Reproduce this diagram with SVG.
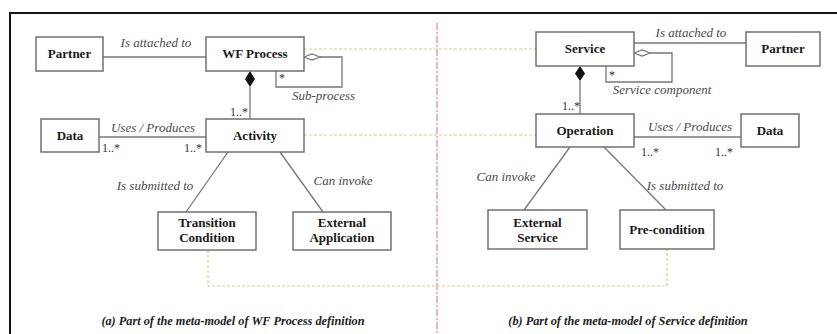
<svg xmlns="http://www.w3.org/2000/svg" width="837" height="334" viewBox="0 0 837 334" font-family="Liberation Serif, serif">
<style>
.box{fill:#fff;stroke:#707070;stroke-width:1.5}
.nt{font-weight:bold;font-size:13px;fill:#1a1a1a;text-anchor:middle}
.lb{font-style:italic;font-size:13px;fill:#4a4a4a}
.m{font-size:12px;fill:#333}
.ln{fill:none;stroke:#777;stroke-width:1.3}
.gd{fill:none;stroke:#c2d88f;stroke-width:1.2;stroke-dasharray:3 2}
.cap{font-style:italic;font-weight:bold;font-size:12.3px;fill:#222;text-anchor:middle}
</style>
<rect width="837" height="334" fill="#fff"/>
<path d="M10,334 V13 H837" fill="none" stroke="#151515" stroke-width="2"/>
<line x1="437" y1="23" x2="437" y2="334" stroke="#f08c8c" stroke-width="1.3" stroke-dasharray="7 2 2 2"/>
<g id="connectors">
<line class="ln" x1="103" y1="57" x2="206" y2="57"/>
<path class="ln" d="M320,57 H342 V87 H276 V71"/>
<polygon points="304,57 312,54 320,57 312,60" fill="#fff" stroke="#777" stroke-width="1.2"/>
<line class="ln" x1="250" y1="87" x2="250" y2="119"/>
<polygon points="250,71 255,79 250,87 245,79" fill="#111"/>
<line class="ln" x1="99" y1="137" x2="206" y2="137"/>
<line class="ln" x1="228" y1="152" x2="186" y2="212"/>
<line class="ln" x1="280" y1="152" x2="323" y2="212"/>
<line class="ln" x1="634" y1="43" x2="746" y2="43"/>
<path class="ln" d="M650,53 H672 V82 H606 V66"/>
<polygon points="634,53 642,50 650,53 642,56" fill="#fff" stroke="#777" stroke-width="1.2"/>
<line class="ln" x1="580" y1="81" x2="580" y2="114"/>
<polygon points="580,66 585,73.5 580,81 575,73.5" fill="#111"/>
<line class="ln" x1="634" y1="137" x2="741" y2="137"/>
<line class="ln" x1="570" y1="147" x2="524" y2="210"/>
<line class="ln" x1="604" y1="147" x2="666" y2="210"/>
<line class="gd" x1="304" y1="49" x2="536" y2="49"/>
<line class="gd" x1="304" y1="135" x2="536" y2="135"/>
<path class="gd" d="M208,250 V286 H667 V249"/>
<text class="lb" x="156" y="47" text-anchor="middle">Is attached to</text>
<text class="lb" x="292" y="100">Sub-process</text>
<text class="m" x="230" y="116">1..*</text>
<text class="m" x="279" y="82">*</text>
<text class="lb" x="153" y="132" text-anchor="middle">Uses / Produces</text>
<text class="m" x="102" y="152">1..*</text>
<text class="m" x="184" y="152">1..*</text>
<text class="lb" x="155" y="190" text-anchor="middle">Is submitted to</text>
<text class="lb" x="343" y="185" text-anchor="middle">Can invoke</text>
<text class="lb" x="691" y="37" text-anchor="middle">Is attached to</text>
<text class="lb" x="662" y="94" text-anchor="middle">Service component</text>
<text class="m" x="562" y="110">1..*</text>
<text class="m" x="609" y="79">*</text>
<text class="lb" x="690" y="131" text-anchor="middle">Uses / Produces</text>
<text class="m" x="641" y="156">1..*</text>
<text class="m" x="715" y="156">1..*</text>
<text class="lb" x="506" y="181" text-anchor="middle">Can invoke</text>
<text class="lb" x="685" y="190" text-anchor="middle">Is submitted to</text>
</g>
<g id="partner-a"><rect class="box" x="36" y="37" width="67" height="34"/><text class="nt" x="69.5" y="58">Partner</text></g>
<g id="wf-process"><rect class="box" x="206" y="37" width="98" height="34"/><text class="nt" x="255" y="58">WF Process</text></g>
<g id="data-a"><rect class="box" x="41" y="119" width="58" height="33"/><text class="nt" x="70" y="140">Data</text></g>
<g id="activity"><rect class="box" x="206" y="119" width="98" height="33"/><text class="nt" x="255" y="140">Activity</text></g>
<g id="transition-condition"><rect class="box" x="158" y="212" width="98" height="38"/><text class="nt" x="207" y="227">Transition</text><text class="nt" x="207" y="242">Condition</text></g>
<g id="external-application"><rect class="box" x="293" y="212" width="98" height="38"/><text class="nt" x="342" y="227">External</text><text class="nt" x="342" y="242">Application</text></g>
<g id="service"><rect class="box" x="536" y="32" width="98" height="34"/><text class="nt" x="585" y="53">Service</text></g>
<g id="partner-b"><rect class="box" x="746" y="32" width="74" height="34"/><text class="nt" x="783" y="53">Partner</text></g>
<g id="operation"><rect class="box" x="536" y="114" width="98" height="33"/><text class="nt" x="585" y="135">Operation</text></g>
<g id="data-b"><rect class="box" x="741" y="114" width="58" height="33"/><text class="nt" x="770" y="135">Data</text></g>
<g id="external-service"><rect class="box" x="488" y="210" width="99" height="39"/><text class="nt" x="537.5" y="227">External</text><text class="nt" x="537.5" y="242">Service</text></g>
<g id="pre-condition"><rect class="box" x="620" y="210" width="94" height="39"/><text class="nt" x="667" y="234">Pre-condition</text></g>
<text class="cap" x="233" y="325">(a) Part of the meta-model of WF Process definition</text>
<text class="cap" x="628" y="325">(b) Part of the meta-model of Service definition</text>
</svg>
